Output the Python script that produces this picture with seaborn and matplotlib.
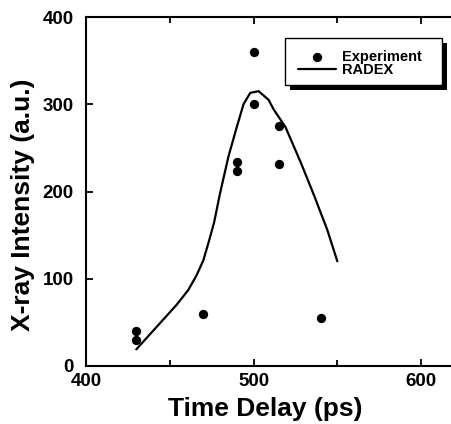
import matplotlib
matplotlib.use("Agg")
import matplotlib.pyplot as plt
import seaborn as sns
import pandas as pd
from matplotlib.patches import Rectangle
from matplotlib.ticker import MultipleLocator

# ---- data ----
exp_delay = [430, 430, 470, 490, 490, 500, 500, 515, 515, 540]
exp_intensity = [40, 30, 60, 234, 224, 360, 300, 275, 231, 55]

radex_delay = [430, 438, 446, 454, 461, 466, 470, 473.5, 476.5, 480, 485,
               490, 494, 498, 503, 509, 512, 519, 528, 536, 544, 550]
radex_intensity = [19, 36, 53, 70, 87, 104, 121, 144, 165, 198, 240,
                   274, 300, 313, 315, 305, 294, 274, 234, 196, 156, 120]

exp_df = pd.DataFrame({"delay": exp_delay, "intensity": exp_intensity})
radex_df = pd.DataFrame({"delay": radex_delay, "intensity": radex_intensity})

sns.set_style("ticks")
plt.rcParams["font.family"] = ["Liberation Sans", "DejaVu Sans"]
plt.rcParams["font.weight"] = "bold"
plt.rcParams["text.color"] = "black"
plt.rcParams["axes.labelcolor"] = "black"

W, H = 451, 424
fig = plt.figure(figsize=(W / 100, H / 100), dpi=100)
# right edge of the axes sits just outside the picture, as in the reference
ax = fig.add_axes([86 / W, 58 / H, 372 / W, 349 / H])

sns.lineplot(data=radex_df, x="delay", y="intensity", color="black",
             linewidth=1.6, label="RADEX", ax=ax, sort=False)
sns.scatterplot(data=exp_df, x="delay", y="intensity", color="black",
                s=45, edgecolor="black", linewidth=0, label="Experiment",
                ax=ax, zorder=3)

ax.set_xlim(400, 622)
ax.set_ylim(0, 400)
ax.xaxis.set_major_locator(MultipleLocator(100))
ax.xaxis.set_minor_locator(MultipleLocator(50))
ax.yaxis.set_major_locator(MultipleLocator(100))

for side in ["left", "bottom", "top", "right"]:
    ax.spines[side].set_visible(True)
    ax.spines[side].set_linewidth(1.5)
    ax.spines[side].set_color("black")

ax.tick_params(which="both", direction="in", top=True, right=False,
               colors="black", width=1.3)
ax.tick_params(which="major", length=5, labelsize=13.5)
ax.tick_params(which="minor", length=4)
ax.tick_params(axis="x", pad=5)
ax.tick_params(axis="y", pad=9)
for lbl in ax.get_xticklabels() + ax.get_yticklabels():
    lbl.set_fontweight("bold")

ax.set_xlabel("Time Delay (ps)", fontsize=19, fontweight="bold")
ax.set_ylabel("X-ray Intensity (a.u.)", fontsize=19, fontweight="bold")
ax.xaxis.set_label_coords(0.481, -0.088)
ax.yaxis.set_label_coords(-0.137, 0.462)

handles, labels = ax.get_legend_handles_labels()
order = [labels.index("Experiment"), labels.index("RADEX")]
leg = ax.legend([handles[i] for i in order], [labels[i] for i in order],
                loc="upper left", bbox_to_anchor=(298 / W, 1 - 50 / H),
                bbox_transform=fig.transFigure, borderaxespad=0,
                frameon=False, prop={"size": 10.5, "weight": "bold"},
                handlelength=2.6, handletextpad=0.45, borderpad=0,
                labelspacing=-0.05)
leg.set_zorder(6)

# legend box with a solid drop shadow, as in the reference
box = dict(x=285, y=H - 85, w=157, h=47)
ax.add_artist(Rectangle((box["x"] + 5, box["y"] - 5), box["w"], box["h"],
                        transform=None, facecolor="black", edgecolor="none",
                        zorder=4, clip_on=False))
ax.add_artist(Rectangle((box["x"], box["y"]), box["w"], box["h"],
                        transform=None, facecolor="white", edgecolor="black",
                        linewidth=1.0, zorder=5, clip_on=False))

fig.savefig("out.png", dpi=100)
